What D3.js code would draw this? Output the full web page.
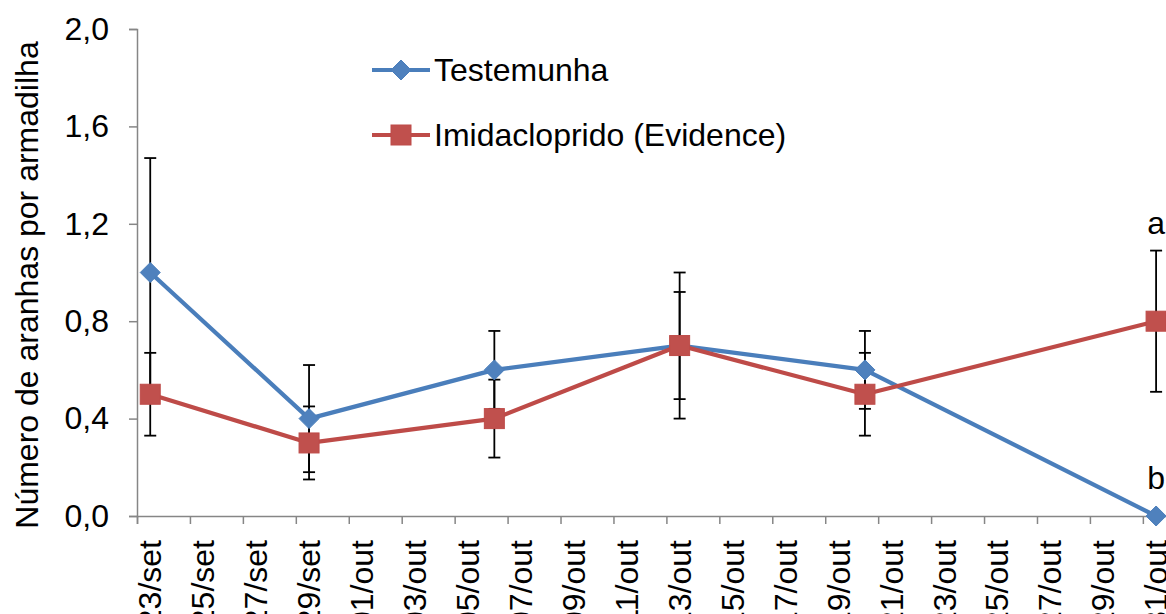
<!DOCTYPE html>
<html>
<head>
<meta charset="utf-8">
<script src="https://cdn.jsdelivr.net/npm/d3@7"></script>
<style>
  html, body { margin: 0; padding: 0; background: #fff; overflow: hidden; }
  svg { display: block; font-family: "Liberation Sans", Arial, sans-serif; }
</style>
</head>
<body>
<svg id="chart" width="1166" height="614"></svg>
<script>
// ---- data ----
const sampleDates = ["2011-09-23", "2011-09-29", "2011-10-06", "2011-10-13", "2011-10-20", "2011-10-31"];
const testemunha = [1.0, 0.4, 0.6, 0.7, 0.6, 0.0];
const testemunhaErr = [0.47, 0.22, 0.16, 0.30, 0.16, 0.0];
const imidacloprido = [0.5, 0.3, 0.4, 0.7, 0.5, 0.8];
const imidaclopridoErr = [0.17, 0.15, 0.16, 0.22, 0.17, 0.29];
const tickLabels = ["23/set","25/set","27/set","29/set","01/out","03/out","05/out","07/out","09/out","11/out",
                    "13/out","15/out","17/out","19/out","21/out","23/out","25/out","27/out","29/out","31/out"];
const yTicks = [0, 0.4, 0.8, 1.2, 1.6, 2.0];
const seriesNames = ["Testemunha", "Imidacloprido (Evidence)"];
const letters = ["a", "b"]; // significance letters at last date (Imidacloprido, Testemunha)

(function () {
// ---- layout ----
const svg = d3.select("#chart");
const plotLeft = 137, plotTop = 29, plotBottom = 516;
const dayW = 26.47;
const parse = d3.timeParse("%Y-%m-%d");
const start = parse(sampleDates[0]);
const tickDates = tickLabels.map((_, i) => d3.timeDay.offset(start, i * 2));

const x = d3.scaleTime()
  .domain([d3.timeHour.offset(start, -12), d3.timeHour.offset(d3.timeDay.offset(start, 38), 12)])
  .range([plotLeft, plotLeft + 39 * dayW]);
const y = d3.scaleLinear().domain([0, 2]).range([plotBottom, plotTop]);

const axisColor = "#868686";
const fontSize = 32;

// Y axis
const yAxis = svg.append("g").attr("transform", `translate(${plotLeft},0)`)
  .call(d3.axisLeft(y).tickValues(yTicks).tickSize(8).tickPadding(20)
    .tickFormat(d => d3.format(".1f")(d).replace(".", ",")));
yAxis.select(".domain").attr("stroke", axisColor).attr("stroke-width", 1.5);
yAxis.selectAll(".tick line").attr("stroke", axisColor).attr("stroke-width", 1.5);
yAxis.selectAll(".tick text").attr("fill", "#000").style("font-size", fontSize + "px")
  .style("font-family", "Liberation Sans, Arial, sans-serif");

// X axis ticks at slot boundaries
const xAxis = svg.append("g").attr("transform", `translate(0,${plotBottom})`)
  .call(d3.axisBottom(x).tickValues(tickDates.map(d => d3.timeHour.offset(d, -12))).tickSize(8).tickFormat(""));
xAxis.select(".domain").attr("stroke", axisColor).attr("stroke-width", 1.5);
xAxis.selectAll(".tick line").attr("stroke", axisColor).attr("stroke-width", 1.5);

// X labels at slot centres, rotated
svg.append("g").selectAll("text").data(tickDates).join("text")
  .attr("transform", d => `translate(${x(d)},540) rotate(-90)`)
  .attr("text-anchor", "end").attr("dy", "0.35em")
  .style("font-size", fontSize + "px")
  .text((d, i) => tickLabels[i]);

// Y label
svg.append("text")
  .attr("transform", `translate(27,285) rotate(-90)`)
  .attr("text-anchor", "middle").attr("dy", "0.35em")
  .style("font-size", fontSize + "px")
  .text("Número de aranhas por armadilha");

const dates = sampleDates.map(parse);
const series = [
  { name: seriesNames[0], vals: testemunha, err: testemunhaErr, line: "#4A7EBB", fill: "#4F81BD", shape: "diamond" },
  { name: seriesNames[1], vals: imidacloprido, err: imidaclopridoErr, line: "#BE4B48", fill: "#C0504D", shape: "square" }
];

const line = d3.line().x(d => x(d.date)).y(d => y(d.v));
series.forEach(s => {
  s.pts = dates.map((d, i) => ({ date: d, v: s.vals[i], e: s.err[i] }));
  svg.append("path").datum(s.pts).attr("d", line)
    .attr("fill", "none").attr("stroke", s.line).attr("stroke-width", 4.2).attr("stroke-linejoin", "round");
});

// error bars
series.forEach(s => {
  const g = svg.append("g").attr("stroke", "#000").attr("stroke-width", 1.8);
  s.pts.filter(p => p.e > 0).forEach(p => {
    const cx = x(p.date);
    g.append("line").attr("x1", cx).attr("x2", cx).attr("y1", y(p.v + p.e)).attr("y2", y(p.v - p.e));
    [p.v + p.e, p.v - p.e].forEach(v => {
      g.append("line").attr("x1", cx - 6).attr("x2", cx + 6).attr("y1", y(v)).attr("y2", y(v));
    });
  });
});

// markers
function marker(g, s, cx, cy) {
  if (s.shape === "diamond") {
    g.append("path").attr("d", "M0,-10L10,0L0,10L-10,0Z")
      .attr("transform", `translate(${cx},${cy})`)
      .attr("fill", s.fill).attr("stroke", s.line).attr("stroke-width", 1);
  } else {
    g.append("rect").attr("x", cx - 10).attr("y", cy - 10).attr("width", 20).attr("height", 20)
      .attr("fill", s.fill).attr("stroke", s.line).attr("stroke-width", 1);
  }
}
series.forEach(s => {
  const g = svg.append("g");
  s.pts.forEach(p => marker(g, s, x(p.date), y(p.v)));
});

// letters
const last = dates[dates.length - 1];
svg.append("text").attr("x", x(last)).attr("y", y(imidacloprido[5] + imidaclopridoErr[5]) - 17)
  .attr("text-anchor", "middle").style("font-size", fontSize + "px").text(letters[0]);
svg.append("text").attr("x", x(last)).attr("y", y(0) - 27)
  .attr("text-anchor", "middle").style("font-size", fontSize + "px").text(letters[1]);

// legend
const legend = svg.append("g");
series.forEach((s, i) => {
  const ly = 70 + i * 65;
  legend.append("line").attr("x1", 372).attr("x2", 430).attr("y1", ly).attr("y2", ly)
    .attr("stroke", s.line).attr("stroke-width", 4.2);
  marker(legend, s, 401, ly);
  legend.append("text").attr("x", 434).attr("y", ly).attr("dy", "0.35em")
    .style("font-size", fontSize + "px").text(s.name);
});
})();
</script>
</body>
</html>
